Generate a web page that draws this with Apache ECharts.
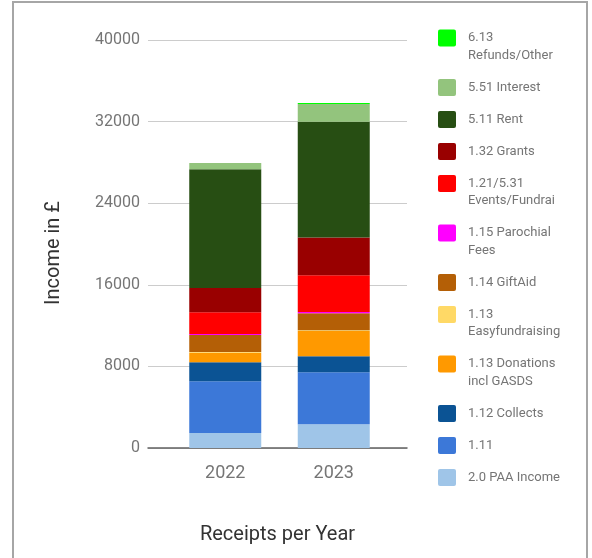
<!DOCTYPE html>
<html><head>
<meta charset="utf-8">
<title>Receipts per Year</title>
<script src="https://cdn.jsdelivr.net/npm/echarts@6/dist/echarts.min.js"></script>
<style>
body{margin:0;background:#fff;}
#main{width:592px;height:558px;}
</style>
</head>
<body>
<div id="main"></div>
<script type="text/javascript">
// years
var years = ['2022', '2023'];
// series names, bottom of the stack first
var names = ['2.0 PAA Income', '1.11', '1.12 Collects', '1.13 Donations incl GASDS',
  '1.13 Easyfundraising', '1.14 GiftAid', '1.15 Parochial Fees', '1.21/5.31 Events/Fundrai',
  '1.32 Grants', '5.11 Rent', '5.51 Interest', '6.13 Refunds/Other'];
// legend text as wrapped in the picture
var labels = ['2.0 PAA Income', '1.11', '1.12 Collects', '1.13 Donations\nincl GASDS',
  '1.13\nEasyfundraising', '1.14 GiftAid', '1.15 Parochial\nFees', '1.21/5.31\nEvents/Fundrai',
  '1.32 Grants', '5.11 Rent', '5.51 Interest', '6.13\nRefunds/Other'];
var colors = ['#9fc5e8', '#3c78d8', '#0b5394', '#ff9900', '#ffd966', '#b45f06',
  '#ff00ff', '#ff0000', '#990000', '#274e13', '#93c47d', '#00ff00'];
// values per year, same order as names
var v2022 = [1470, 5070, 1860, 950, 60, 1670, 100, 2130, 2380, 11650, 590, 0];
var v2023 = [2325, 5100, 1570, 2480, 70, 1660, 130, 3600, 3700, 11340, 1740, 100];
var yTicks = [0, 8000, 16000, 24000, 32000, 40000];

var myChart = echarts.init(document.getElementById('main'));

var series = [];
for (var i = 0; i < names.length; i++) {
  series.push({
    name: names[i],
    type: 'bar',
    stack: 'total',
    xAxisIndex: 1,
    yAxisIndex: 1,
    barWidth: 72,
    itemStyle: { color: colors[i] },
    data: [v2022[i], v2023[i]]
  });
}

// legend drawn by hand, top item = top of stack
var graphics = [];
var y = 38;
for (var j = names.length - 1; j >= 0; j--) {
  var lines = labels[j].split('\n').length;
  graphics.push({
    type: 'rect', left: 438, top: y - 8.5,
    shape: { width: 18, height: 17, r: 2 },
    style: { fill: colors[j] }
  });
  graphics.push({
    type: 'text', x: 468, y: y - 8.75,
    style: { text: labels[j], fill: '#757575', font: '13px Roboto', lineHeight: 17.5, verticalAlign: 'top' }
  });
  y += lines == 1 ? 32 : 49.5;
}
graphics.push({
  type: 'text', x: 54, y: 253, rotation: Math.PI / 2,
  style: { text: 'Income in £', fill: '#333', font: '20px Roboto', align: 'center', verticalAlign: 'middle' }
});
graphics.push({
  type: 'rect', shape: { x: 13, y: 2, width: 574, height: 600 },
  style: { fill: 'none', stroke: '#a6a6a6', lineWidth: 2 }
});

var option = {
  animation: false,
  textStyle: { fontFamily: 'Roboto' },
  grid: [
    { left: 148, right: 185, top: 40, bottom: 110 },
    { left: 171, width: 217, top: 40, bottom: 110 }
  ],
  xAxis: [
    {
      type: 'category', gridIndex: 0, data: years,
      axisLine: { lineStyle: { color: '#616161', width: 1.5 } },
      axisTick: { show: false }, axisLabel: { show: false },
      name: 'Receipts per Year', nameLocation: 'middle', nameGap: 77,
      nameTextStyle: { fontSize: 20, color: '#333' }
    },
    {
      type: 'category', gridIndex: 1, data: years,
      axisLine: { show: false }, axisTick: { show: false },
      axisLabel: { fontSize: 18, color: '#757575', margin: 16 }
    }
  ],
  yAxis: [
    {
      type: 'value', gridIndex: 0, min: yTicks[0], max: yTicks[yTicks.length - 1], interval: 8000,
      axisLine: { show: false }, axisTick: { show: false },
      axisLabel: { fontSize: 16, color: '#757575', margin: 8, formatter: function (v) { return String(v); } },
      splitLine: { lineStyle: { color: '#cccccc' } }
    },
    {
      type: 'value', gridIndex: 1, min: yTicks[0], max: yTicks[yTicks.length - 1], interval: 8000,
      show: false, splitLine: { show: false }
    }
  ],
  graphic: graphics,
  series: series
};

myChart.setOption(option);
</script>
</body>
</html>
